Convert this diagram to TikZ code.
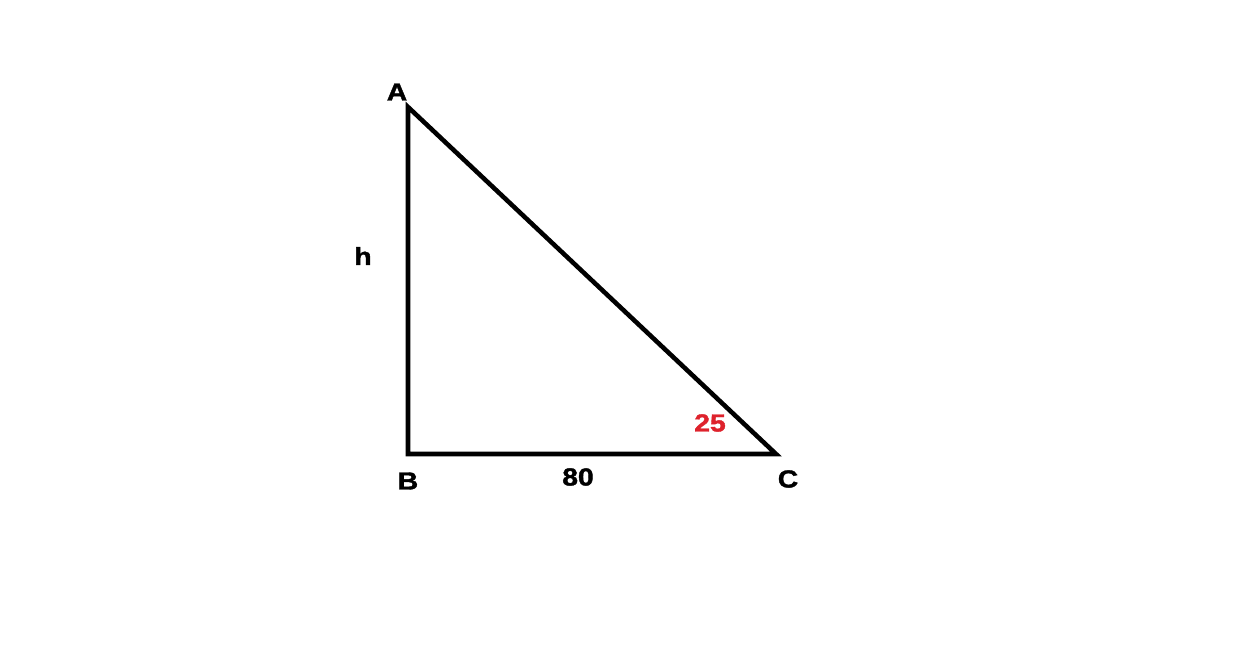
\documentclass[tikz,border=0pt]{standalone}
\usepackage{fontspec}
\setmainfont{Liberation Sans}[FakeStretch=1.15,BoldFeatures={FakeBold=1.6}]
\definecolor{anglered}{RGB}{222,34,44}
\tikzset{lbl/.style={font=\bfseries\fontsize{14}{16}\selectfont, inner sep=0pt}}
\begin{document}
\begin{tikzpicture}[x=0.02cm,y=-0.02cm]
		  \useasboundingbox (0,0) rectangle (1238,655);
		  \coordinate (A) at (408,107);
		  \coordinate (B) at (408,454);
		  \coordinate (C) at (776,454);
		  \draw[line width=2.6pt] (A) -- (B) -- (C) -- cycle;
		  \node[lbl] (lA) at (397,92) {A};
		  \node[lbl] (lB) at (408,481) {B};
		  \node[lbl] (lC) at (788,479) {C};
		  \node[lbl] (lh) at (363,256) {h};
		  \node[lbl] (lbase) at (578,477) {80};
		  \node[lbl, text=anglered] (lang) at (710,423) {25};
		\end{tikzpicture}
\end{document}
